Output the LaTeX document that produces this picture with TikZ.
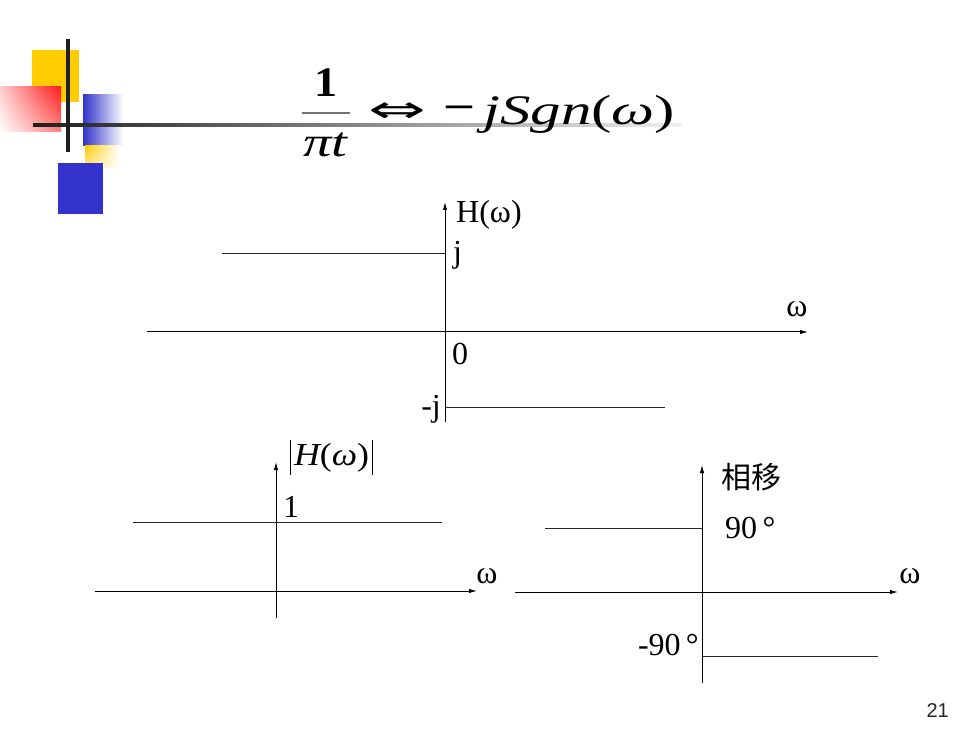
\documentclass[tikz,border=0pt]{standalone}
\usepackage{fontspec}
\setmainfont{Liberation Serif}
\newfontfamily\cjkfont{Noto Sans CJK SC}
\newfontfamily\numfont{Liberation Sans}
\newfontfamily\arrfont{DejaVu Sans}
\usetikzlibrary{arrows.meta,shadings}
\definecolor{decoyellow}{HTML}{FFCC00}
\definecolor{decoblue}{HTML}{3333CC}
\definecolor{decored}{HTML}{FF1A1A}
\begin{document}
\begin{tikzpicture}[x=1pt,y=-1pt,
  axisline/.style={line width=1pt, draw=black, -{Latex[length=8pt,width=4.5pt]}},
  levelline/.style={line width=0.9pt, draw=black!85},
  lbl/.style={inner sep=0pt, font=\fontsize{32}{38}\selectfont},
  formula/.style={inner sep=0pt, font=\fontsize{42}{50}\selectfont},
  fracbar/.style={line width=1.3pt, draw=black!55}
]
\useasboundingbox[fill=white] (0,0) rectangle (980,735);

% ---------- decoration ----------
\fill[decoyellow] (32,50) rectangle (79,102);
\shade[upper right=decored, lower right=decored!55!white, upper left=decored!22!white, lower left=white] (0,87) rectangle (61,132);
\shade[left color=decoblue, right color=white] (83,95) rectangle (123,146);
\shade[upper left=decoyellow, lower left=decoyellow!45!white, upper right=white, lower right=white] (85,146) rectangle (120,168);
\fill[decoblue] (58,163) rectangle (103,214);
\shade[left color=black!88, right color=black!6] (33,123.2) rectangle (682,126.8);
\fill[black!88] (66.3,39) rectangle (69.7,152);

% ---------- formula ----------
\node[formula, anchor=base] (one) at (326,97) {\scalebox{1.1}[1]{\bfseries 1}};
\coordinate (fbl) at (302,113);
\coordinate (fbr) at (350,113);
\draw[fracbar] (fbl) -- (fbr);
\node[formula, anchor=base] (pit) at (325.5,157) {\scalebox{1.35}[1]{\itshape πt}};
\node[inner sep=0pt, font=\arrfont\fontsize{30}{36}\selectfont] (equiv) at (397,113) {\scalebox{2.3}[1.25]{⇔}};
\node[formula, anchor=base] (minus) at (459,126) {\scalebox{1.35}[1.3]{−}};
\node[formula, anchor=base west] (sgn) at (483,125) {\scalebox{1.45}[1]{\itshape jSgn\upshape(\itshape ω\upshape)}};

% ---------- top chart ----------
\coordinate (t-l) at (147,332);
\coordinate (t-r) at (808,332);
\coordinate (t-b) at (445,422);
\coordinate (t-t) at (445,202);
\coordinate (t-j1) at (222,253);
\coordinate (t-j2) at (445,253);
\coordinate (t-m1) at (445,407);
\coordinate (t-m2) at (665,407);
\draw[axisline] (t-l) -- (t-r);
\draw[axisline] (t-b) -- (t-t);
\draw[levelline] (t-j1) -- (t-j2);
\draw[levelline] (t-m1) -- (t-m2);
\node[lbl, anchor=base west] (hlab) at (456,223) {H(ω)};
\node[lbl, anchor=base west] (jlab) at (453,263) {j};
\node[lbl, anchor=base west] (zlab) at (452,364) {0};
\node[lbl, anchor=base east] (mjlab) at (441,416) {-j};
\node[lbl, anchor=base] (w1lab) at (797,317) {ω};

% ---------- bottom-left chart ----------
\coordinate (a-l) at (95,591);
\coordinate (a-r) at (477,591);
\coordinate (a-b) at (276,618);
\coordinate (a-t) at (276,462);
\coordinate (a-o1) at (133,522);
\coordinate (a-o2) at (442,522);
\draw[axisline] (a-l) -- (a-r);
\draw[axisline] (a-b) -- (a-t);
\draw[levelline] (a-o1) -- (a-o2);
\node[lbl, anchor=base west] (onelab) at (283,517) {1};
\node[lbl, anchor=base] (w2lab) at (487,583) {ω};
\node[lbl, anchor=base west] (abslab) at (290,465) {\rule[-10pt]{0.9pt}{35pt}\hspace{3pt}\scalebox{1.12}[1]{\itshape H\upshape(\itshape ω\upshape)}\hspace{3pt}\rule[-10pt]{0.9pt}{35pt}};

% ---------- bottom-right chart ----------
\coordinate (p-l) at (515,592);
\coordinate (p-r) at (898,592);
\coordinate (p-b) at (702,683);
\coordinate (p-t) at (702,465);
\coordinate (p-u1) at (545,528);
\coordinate (p-u2) at (702,528);
\coordinate (p-d1) at (702,656);
\coordinate (p-d2) at (878,656);
\draw[axisline] (p-l) -- (p-r);
\draw[axisline] (p-b) -- (p-t);
\draw[levelline] (p-u1) -- (p-u2);
\draw[levelline] (p-d1) -- (p-d2);
\node[inner sep=0pt, font=\cjkfont\fontsize{30}{36}\selectfont] (phlab) at (751,477) {相移};
\node[lbl, anchor=base west] (p90) at (725,538) {90\,°};
\node[lbl, anchor=base east] (m90) at (699,655) {-90\,°};
\node[lbl, anchor=base] (w3lab) at (910,583) {ω};

% ---------- page number ----------
\node[inner sep=0pt, anchor=base east, font=\numfont\fontsize{20}{24}\selectfont, text=black!85] (pg) at (949,717) {21};
\end{tikzpicture}
\end{document}
